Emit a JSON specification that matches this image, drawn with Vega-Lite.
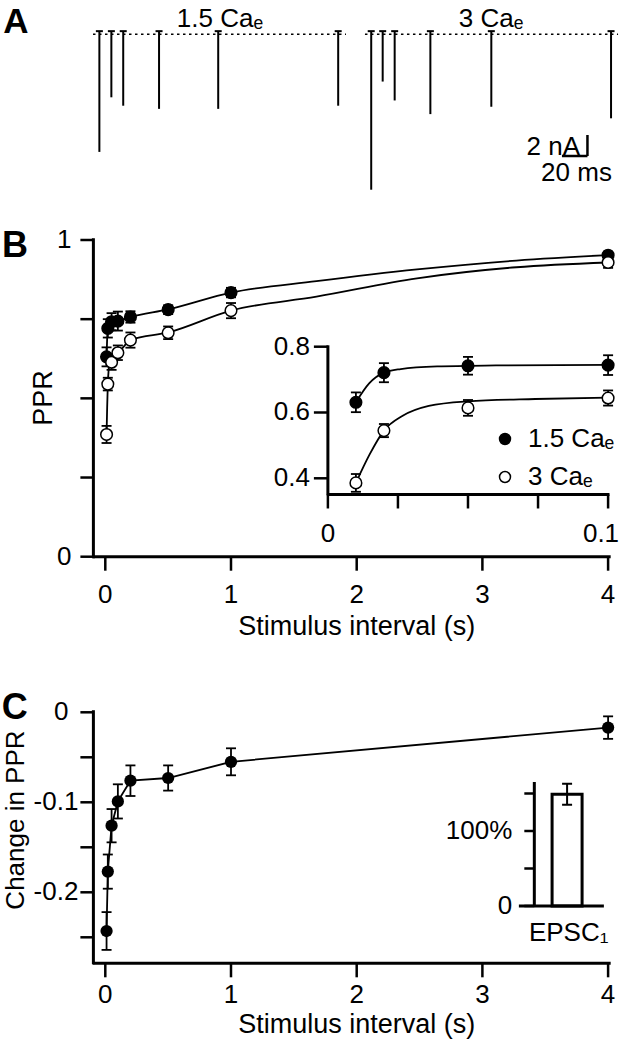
{
"$schema":"https://vega.github.io/schema/vega-lite/v6.json",
"width":620,"height":1050,"autosize":{"type":"none"},"padding":0,"background":"white",
"config":{"aria":false,"view":{"stroke":null},"text":{"font":"Liberation Sans","fontSize":26,"color":"black"},"legend":{"labelFont":"Liberation Sans"}},
"datasets":{
"spikes":[{"cond":"1.5 Ca\u2091","t":5.0,"base":0.3,"amp":-11.2},{"cond":"1.5 Ca\u2091","t":14.4,"base":0.3,"amp":-6.0},{"cond":"1.5 Ca\u2091","t":23.7,"base":0.3,"amp":-6.8},{"cond":"1.5 Ca\u2091","t":51.8,"base":0.3,"amp":-7.1},{"cond":"1.5 Ca\u2091","t":98.2,"base":0.3,"amp":-7.1},{"cond":"1.5 Ca\u2091","t":192.3,"base":0.3,"amp":-6.8},
{"cond":"3 Ca\u2091","t":218.2,"base":0.3,"amp":-14.8},{"cond":"3 Ca\u2091","t":227.2,"base":0.3,"amp":-4.5},{"cond":"3 Ca\u2091","t":236.6,"base":0.3,"amp":-6.3},{"cond":"3 Ca\u2091","t":264.6,"base":0.3,"amp":-7.6},{"cond":"3 Ca\u2091","t":312.4,"base":0.3,"amp":-6.9},{"cond":"3 Ca\u2091","t":406.3,"base":0.3,"amp":-8.0}],
"baselines":[{"cond":"1.5 Ca\u2091","start":0,"end":198.4},{"cond":"3 Ca\u2091","start":213.3,"end":411.8}],
"scalebar":[{"t0":367.8,"t1":387.8,"i0":-9.59,"i1":-11.59}],
"ppr":[
{"cond":"1.5 Ca\u2091","t":0.01,"ppr":0.631,"lo":0.601,"hi":0.661},
{"cond":"1.5 Ca\u2091","t":0.02,"ppr":0.721,"lo":0.692,"hi":0.750},
{"cond":"1.5 Ca\u2091","t":0.05,"ppr":0.742,"lo":0.715,"hi":0.769},
{"cond":"1.5 Ca\u2091","t":0.1,"ppr":0.744,"lo":0.714,"hi":0.774},
{"cond":"1.5 Ca\u2091","t":0.2,"ppr":0.757,"lo":0.739,"hi":0.775},
{"cond":"1.5 Ca\u2091","t":0.5,"ppr":0.780,"lo":0.766,"hi":0.794},
{"cond":"1.5 Ca\u2091","t":1,"ppr":0.834,"lo":0.819,"hi":0.849},
{"cond":"1.5 Ca\u2091","t":4,"ppr":0.952,"lo":0.941,"hi":0.963},
{"cond":"3 Ca\u2091","t":0.01,"ppr":0.386,"lo":0.359,"hi":0.413},
{"cond":"3 Ca\u2091","t":0.02,"ppr":0.545,"lo":0.525,"hi":0.565},
{"cond":"3 Ca\u2091","t":0.05,"ppr":0.614,"lo":0.590,"hi":0.638},
{"cond":"3 Ca\u2091","t":0.1,"ppr":0.644,"lo":0.621,"hi":0.667},
{"cond":"3 Ca\u2091","t":0.2,"ppr":0.684,"lo":0.660,"hi":0.708},
{"cond":"3 Ca\u2091","t":0.5,"ppr":0.707,"lo":0.687,"hi":0.727},
{"cond":"3 Ca\u2091","t":1,"ppr":0.777,"lo":0.753,"hi":0.801},
{"cond":"3 Ca\u2091","t":4,"ppr":0.929,"lo":0.912,"hi":0.946}],
"fits":[
{"cond":"1.5 Ca\u2091","t":0.01,"ppr":0.631},{"cond":"1.5 Ca\u2091","t":0.0148,"ppr":0.689},{"cond":"1.5 Ca\u2091","t":0.02,"ppr":0.721},{"cond":"1.5 Ca\u2091","t":0.026,"ppr":0.732},{"cond":"1.5 Ca\u2091","t":0.039,"ppr":0.740},{"cond":"1.5 Ca\u2091","t":0.06,"ppr":0.743},{"cond":"1.5 Ca\u2091","t":0.1,"ppr":0.745},{"cond":"1.5 Ca\u2091","t":0.2,"ppr":0.757},{"cond":"1.5 Ca\u2091","t":0.5,"ppr":0.781},{"cond":"1.5 Ca\u2091","t":1,"ppr":0.834},{"cond":"1.5 Ca\u2091","t":1.68,"ppr":0.870},{"cond":"1.5 Ca\u2091","t":2.48,"ppr":0.907},{"cond":"1.5 Ca\u2091","t":3.27,"ppr":0.935},{"cond":"1.5 Ca\u2091","t":4,"ppr":0.952},
{"cond":"3 Ca\u2091","t":0.01,"ppr":0.386},{"cond":"3 Ca\u2091","t":0.0148,"ppr":0.471},{"cond":"3 Ca\u2091","t":0.02,"ppr":0.545},{"cond":"3 Ca\u2091","t":0.0267,"ppr":0.59},{"cond":"3 Ca\u2091","t":0.036,"ppr":0.62},{"cond":"3 Ca\u2091","t":0.05,"ppr":0.634},{"cond":"3 Ca\u2091","t":0.074,"ppr":0.641},{"cond":"3 Ca\u2091","t":0.1,"ppr":0.645},{"cond":"3 Ca\u2091","t":0.2,"ppr":0.684},{"cond":"3 Ca\u2091","t":0.5,"ppr":0.708},{"cond":"3 Ca\u2091","t":1,"ppr":0.777},{"cond":"3 Ca\u2091","t":1.68,"ppr":0.821},{"cond":"3 Ca\u2091","t":2.48,"ppr":0.879},{"cond":"3 Ca\u2091","t":3.27,"ppr":0.914},{"cond":"3 Ca\u2091","t":4,"ppr":0.929}],
"change":[
{"t":0.01,"d":-0.243,"lo":-0.264,"hi":-0.222},
{"t":0.02,"d":-0.177,"lo":-0.196,"hi":-0.158},
{"t":0.05,"d":-0.126,"lo":-0.1445,"hi":-0.1075},
{"t":0.1,"d":-0.099,"lo":-0.118,"hi":-0.080},
{"t":0.2,"d":-0.076,"lo":-0.093,"hi":-0.059},
{"t":0.5,"d":-0.073,"lo":-0.087,"hi":-0.059},
{"t":1,"d":-0.055,"lo":-0.070,"hi":-0.040},
{"t":4,"d":-0.017,"lo":-0.0295,"hi":-0.0045}],
"epsc":[{"label":"EPSC\u2081","pct":149,"lo":135,"hi":163}],
"xticks":[{"v":0,"label":"0"},{"v":1,"label":"1"},{"v":2,"label":"2"},{"v":3,"label":"3"},{"v":4,"label":"4"}]
},
"resolve":{"scale":{"x":"independent","y":"independent"}},
"layer":[
{"layer":[
 {"data":{"name":"baselines"},"mark":{"type":"rule","color":"black","strokeWidth":1.5,"strokeDash":[2.5,3.5]},
  "encoding":{"x":{"field":"start","type":"quantitative","scale":{"domain":[-72.94,413.33],"nice":false,"zero":false},"axis":null},"x2":{"field":"end"},"y":{"datum":0,"type":"quantitative","scale":{"domain":[-96.73,3.267],"nice":false,"zero":false},"axis":null}}},
 {"data":{"name":"spikes"},"mark":{"type":"rule","color":"black","strokeWidth":2},
  "encoding":{"x":{"field":"t","type":"quantitative","scale":{"domain":[-72.94,413.33],"nice":false,"zero":false},"axis":null},"y":{"field":"base","type":"quantitative","scale":{"domain":[-96.73,3.267],"nice":false,"zero":false},"axis":null},"y2":{"field":"amp"}}},
 {"data":{"name":"spikes"},"mark":{"type":"tick","orient":"horizontal","color":"black","size":7,"thickness":2,"opacity":1},
  "encoding":{"x":{"field":"t","type":"quantitative","scale":{"domain":[-72.94,413.33],"nice":false,"zero":false},"axis":null},"y":{"field":"base","type":"quantitative","scale":{"domain":[-96.73,3.267],"nice":false,"zero":false},"axis":null}}},
 {"data":{"name":"scalebar"},"mark":{"type":"rule","color":"black","strokeWidth":2.5},
  "encoding":{"x":{"field":"t1","type":"quantitative","scale":{"domain":[-72.94,413.33],"nice":false,"zero":false},"axis":null},"y":{"field":"i0","type":"quantitative","scale":{"domain":[-96.73,3.267],"nice":false,"zero":false},"axis":null},"y2":{"field":"i1"}}},
 {"data":{"name":"scalebar"},"mark":{"type":"rule","color":"black","strokeWidth":2.5},
  "encoding":{"x":{"field":"t0","type":"quantitative","scale":{"domain":[-72.94,413.33],"nice":false,"zero":false},"axis":null},"x2":{"field":"t1"},"y":{"field":"i1","type":"quantitative","scale":{"domain":[-96.73,3.267],"nice":false,"zero":false},"axis":null}}},
 {"data":{"values":[{"label":"2 nA"}]},"mark":{"type":"text","align":"right","baseline":"middle","fontSize":26},
  "encoding":{"x":{"datum":382,"type":"quantitative","scale":{"domain":[-72.94,413.33],"nice":false,"zero":false},"axis":null},"y":{"datum":-10.73,"type":"quantitative","scale":{"domain":[-96.73,3.267],"nice":false,"zero":false},"axis":null},"text":{"field":"label","type":"nominal"}}},
 {"data":{"values":[{"label":"20 ms"}]},"mark":{"type":"text","align":"right","baseline":"middle","fontSize":26},
  "encoding":{"x":{"datum":407,"type":"quantitative","scale":{"domain":[-72.94,413.33],"nice":false,"zero":false},"axis":null},"y":{"datum":-13.2,"type":"quantitative","scale":{"domain":[-96.73,3.267],"nice":false,"zero":false},"axis":null},"text":{"field":"label","type":"nominal"}}},
 {"data":{"values":[{"label":"1.5 Ca\u2091"}]},"mark":{"type":"text","align":"center","baseline":"middle","fontSize":26},
  "encoding":{"x":{"datum":99.6,"type":"quantitative","scale":{"domain":[-72.94,413.33],"nice":false,"zero":false},"axis":null},"y":{"datum":1.457,"type":"quantitative","scale":{"domain":[-96.73,3.267],"nice":false,"zero":false},"axis":null},"text":{"field":"label","type":"nominal"}}},
 {"data":{"values":[{"label":"3 Ca\u2091"}]},"mark":{"type":"text","align":"center","baseline":"middle","fontSize":26},
  "encoding":{"x":{"datum":312.2,"type":"quantitative","scale":{"domain":[-72.94,413.33],"nice":false,"zero":false},"axis":null},"y":{"datum":1.457,"type":"quantitative","scale":{"domain":[-96.73,3.267],"nice":false,"zero":false},"axis":null},"text":{"field":"label","type":"nominal"}}},
 {"data":{"values":[{"label":"A"}]},"mark":{"type":"text","align":"center","baseline":"middle","fontSize":35,"fontWeight":"bold"},
  "encoding":{"x":{"datum":-60.4,"type":"quantitative","scale":{"domain":[-72.94,413.33],"nice":false,"zero":false},"axis":null},"y":{"datum":1.2,"type":"quantitative","scale":{"domain":[-96.73,3.267],"nice":false,"zero":false},"axis":null},"text":{"field":"label","type":"nominal"}}}
]},
{"layer":[
 {"data":{"name":"fits"},"mark":{"type":"line","color":"black","strokeWidth":1.8,"interpolate":"monotone"},
  "encoding":{"x":{"field":"t","type":"quantitative","scale":{"domain":[-0.8377,4.0947],"nice":false,"zero":false},"axis":null},"y":{"field":"ppr","type":"quantitative","scale":{"domain":[-1.5576,1.7578],"nice":false,"zero":false},"axis":null},"detail":{"field":"cond","type":"nominal"}}},
 {"data":{"name":"ppr"},"mark":{"type":"rule","color":"black","strokeWidth":1.8},
  "encoding":{"x":{"field":"t","type":"quantitative","scale":{"domain":[-0.8377,4.0947],"nice":false,"zero":false},"axis":null},"y":{"field":"lo","type":"quantitative","scale":{"domain":[-1.5576,1.7578],"nice":false,"zero":false},"axis":null},"y2":{"field":"hi"}}},
 {"data":{"name":"ppr"},"mark":{"type":"tick","orient":"horizontal","color":"black","size":10,"thickness":1.8,"opacity":1},
  "encoding":{"x":{"field":"t","type":"quantitative","scale":{"domain":[-0.8377,4.0947],"nice":false,"zero":false},"axis":null},"y":{"field":"lo","type":"quantitative","scale":{"domain":[-1.5576,1.7578],"nice":false,"zero":false},"axis":null}}},
 {"data":{"name":"ppr"},"mark":{"type":"tick","orient":"horizontal","color":"black","size":10,"thickness":1.8,"opacity":1},
  "encoding":{"x":{"field":"t","type":"quantitative","scale":{"domain":[-0.8377,4.0947],"nice":false,"zero":false},"axis":null},"y":{"field":"hi","type":"quantitative","scale":{"domain":[-1.5576,1.7578],"nice":false,"zero":false},"axis":null}}},
 {"data":{"name":"ppr"},"mark":{"type":"point","shape":"circle","filled":true,"stroke":"black","strokeWidth":1.5,"size":135,"opacity":1},
  "encoding":{"x":{"field":"t","type":"quantitative","scale":{"domain":[-0.8377,4.0947],"nice":false,"zero":false},"axis":null},"y":{"field":"ppr","type":"quantitative","scale":{"domain":[-1.5576,1.7578],"nice":false,"zero":false},"axis":null},
   "fill":{"field":"cond","type":"nominal","scale":{"domain":["1.5 Ca\u2091","3 Ca\u2091"],"range":["black","white"]},
    "legend":{"orient":"none","legendX":492,"legendY":426,"title":null,"symbolType":"circle","symbolSize":120,"symbolStrokeColor":"black","symbolStrokeWidth":1.5,"symbolOpacity":1,"labelFontSize":26,"labelFont":"Liberation Sans","labelColor":"black","labelOffset":10,"rowPadding":12}}}},
 {"data":{"values":[{"a":1}]},"mark":{"type":"tick","orient":"vertical","color":"black","size":320,"thickness":3,"opacity":1},
  "encoding":{"x":{"datum":-0.0947,"type":"quantitative","scale":{"domain":[-0.8377,4.0947],"nice":false,"zero":false},"axis":null},"y":{"datum":0.5,"type":"quantitative","scale":{"domain":[-1.5576,1.7578],"nice":false,"zero":false},"axis":null}}},
 {"data":{"values":[{"a":1}]},"mark":{"type":"tick","orient":"horizontal","color":"black","size":518,"thickness":3,"opacity":1},
  "encoding":{"x":{"datum":1.96,"type":"quantitative","scale":{"domain":[-0.8377,4.0947],"nice":false,"zero":false},"axis":null},"y":{"datum":0,"type":"quantitative","scale":{"domain":[-1.5576,1.7578],"nice":false,"zero":false},"axis":null}}},
 {"data":{"values":[{"v":0,"label":"0"},{"v":0.25,"label":""},{"v":0.5,"label":""},{"v":0.75,"label":""},{"v":1,"label":"1"}]},"layer":[
  {"mark":{"type":"tick","orient":"horizontal","color":"black","size":13,"thickness":2.5,"xOffset":-6.5,"opacity":1},
   "encoding":{"x":{"datum":-0.0947,"type":"quantitative","scale":{"domain":[-0.8377,4.0947],"nice":false,"zero":false},"axis":null},"y":{"field":"v","type":"quantitative","scale":{"domain":[-1.5576,1.7578],"nice":false,"zero":false},"axis":null}}},
  {"mark":{"type":"text","align":"right","baseline":"middle","dx":-22,"fontSize":26},
   "encoding":{"x":{"datum":-0.0947,"type":"quantitative","scale":{"domain":[-0.8377,4.0947],"nice":false,"zero":false},"axis":null},"y":{"field":"v","type":"quantitative","scale":{"domain":[-1.5576,1.7578],"nice":false,"zero":false},"axis":null},"text":{"field":"label","type":"nominal"}}}]},
 {"data":{"name":"xticks"},"layer":[
  {"mark":{"type":"tick","orient":"vertical","color":"black","size":14,"thickness":2.5,"yOffset":7,"opacity":1},
   "encoding":{"x":{"field":"v","type":"quantitative","scale":{"domain":[-0.8377,4.0947],"nice":false,"zero":false},"axis":null},"y":{"datum":0,"type":"quantitative","scale":{"domain":[-1.5576,1.7578],"nice":false,"zero":false},"axis":null}}},
  {"mark":{"type":"text","align":"center","baseline":"middle","dy":38,"fontSize":26},
   "encoding":{"x":{"field":"v","type":"quantitative","scale":{"domain":[-0.8377,4.0947],"nice":false,"zero":false},"axis":null},"y":{"datum":0,"type":"quantitative","scale":{"domain":[-1.5576,1.7578],"nice":false,"zero":false},"axis":null},"text":{"field":"label","type":"nominal"}}}]},
 {"data":{"values":[{"label":"Stimulus interval (s)"}]},"mark":{"type":"text","align":"center","baseline":"middle","dy":70,"fontSize":27},
  "encoding":{"x":{"datum":2,"type":"quantitative","scale":{"domain":[-0.8377,4.0947],"nice":false,"zero":false},"axis":null},"y":{"datum":0,"type":"quantitative","scale":{"domain":[-1.5576,1.7578],"nice":false,"zero":false},"axis":null},"text":{"field":"label","type":"nominal"}}},
 {"data":{"values":[{"label":"PPR"}]},"mark":{"type":"text","align":"center","baseline":"middle","angle":270,"fontSize":27},
  "encoding":{"x":{"datum":-0.49,"type":"quantitative","scale":{"domain":[-0.8377,4.0947],"nice":false,"zero":false},"axis":null},"y":{"datum":0.501,"type":"quantitative","scale":{"domain":[-1.5576,1.7578],"nice":false,"zero":false},"axis":null},"text":{"field":"label","type":"nominal"}}},
 {"data":{"values":[{"label":"B"}]},"mark":{"type":"text","align":"center","baseline":"middle","fontSize":36,"fontWeight":"bold"},
  "encoding":{"x":{"datum":-0.7184,"type":"quantitative","scale":{"domain":[-0.8377,4.0947],"nice":false,"zero":false},"axis":null},"y":{"datum":0.981,"type":"quantitative","scale":{"domain":[-1.5576,1.7578],"nice":false,"zero":false},"axis":null},"text":{"field":"label","type":"nominal"}}}
]},
{"layer":[
 {"data":{"name":"fits"},"transform":[{"filter":"datum.t <= 0.1"}],"mark":{"type":"line","color":"black","strokeWidth":1.8,"interpolate":"monotone"},
  "encoding":{"x":{"field":"t","type":"quantitative","scale":{"domain":[-0.11702,0.10425],"nice":false,"zero":false},"axis":null},"y":{"field":"ppr","type":"quantitative","scale":{"domain":[-1.33769,1.85377],"nice":false,"zero":false},"axis":null},"detail":{"field":"cond","type":"nominal"}}},
 {"data":{"name":"ppr"},"transform":[{"filter":"datum.t <= 0.1"}],"mark":{"type":"rule","color":"black","strokeWidth":1.8},
  "encoding":{"x":{"field":"t","type":"quantitative","scale":{"domain":[-0.11702,0.10425],"nice":false,"zero":false},"axis":null},"y":{"field":"lo","type":"quantitative","scale":{"domain":[-1.33769,1.85377],"nice":false,"zero":false},"axis":null},"y2":{"field":"hi"}}},
 {"data":{"name":"ppr"},"transform":[{"filter":"datum.t <= 0.1"}],"mark":{"type":"tick","orient":"horizontal","color":"black","size":10,"thickness":1.8,"opacity":1},
  "encoding":{"x":{"field":"t","type":"quantitative","scale":{"domain":[-0.11702,0.10425],"nice":false,"zero":false},"axis":null},"y":{"field":"lo","type":"quantitative","scale":{"domain":[-1.33769,1.85377],"nice":false,"zero":false},"axis":null}}},
 {"data":{"name":"ppr"},"transform":[{"filter":"datum.t <= 0.1"}],"mark":{"type":"tick","orient":"horizontal","color":"black","size":10,"thickness":1.8,"opacity":1},
  "encoding":{"x":{"field":"t","type":"quantitative","scale":{"domain":[-0.11702,0.10425],"nice":false,"zero":false},"axis":null},"y":{"field":"hi","type":"quantitative","scale":{"domain":[-1.33769,1.85377],"nice":false,"zero":false},"axis":null}}},
 {"data":{"name":"ppr"},"transform":[{"filter":"datum.t <= 0.1"}],"mark":{"type":"point","shape":"circle","filled":true,"stroke":"black","strokeWidth":1.5,"size":135,"opacity":1},
  "encoding":{"x":{"field":"t","type":"quantitative","scale":{"domain":[-0.11702,0.10425],"nice":false,"zero":false},"axis":null},"y":{"field":"ppr","type":"quantitative","scale":{"domain":[-1.33769,1.85377],"nice":false,"zero":false},"axis":null},
   "fill":{"field":"cond","type":"nominal","scale":{"domain":["1.5 Ca\u2091","3 Ca\u2091"],"range":["black","white"]},"legend":null}}},
 {"data":{"values":[{"a":1}]},"mark":{"type":"tick","orient":"vertical","color":"black","size":150,"thickness":3,"opacity":1},
  "encoding":{"x":{"datum":0,"type":"quantitative","scale":{"domain":[-0.11702,0.10425],"nice":false,"zero":false},"axis":null},"y":{"datum":0.5763,"type":"quantitative","scale":{"domain":[-1.33769,1.85377],"nice":false,"zero":false},"axis":null}}},
 {"data":{"values":[{"a":1}]},"mark":{"type":"tick","orient":"horizontal","color":"black","size":282,"thickness":3,"opacity":1},
  "encoding":{"x":{"datum":0.05018,"type":"quantitative","scale":{"domain":[-0.11702,0.10425],"nice":false,"zero":false},"axis":null},"y":{"datum":0.3508,"type":"quantitative","scale":{"domain":[-1.33769,1.85377],"nice":false,"zero":false},"axis":null}}},
 {"data":{"values":[{"v":0.4,"label":"0.4"},{"v":0.6,"label":"0.6"},{"v":0.8,"label":"0.8"}]},"layer":[
  {"mark":{"type":"tick","orient":"horizontal","color":"black","size":14,"thickness":2.5,"xOffset":-7,"opacity":1},
   "encoding":{"x":{"datum":0,"type":"quantitative","scale":{"domain":[-0.11702,0.10425],"nice":false,"zero":false},"axis":null},"y":{"field":"v","type":"quantitative","scale":{"domain":[-1.33769,1.85377],"nice":false,"zero":false},"axis":null}}},
  {"mark":{"type":"text","align":"right","baseline":"middle","dx":-18,"fontSize":26},
   "encoding":{"x":{"datum":0,"type":"quantitative","scale":{"domain":[-0.11702,0.10425],"nice":false,"zero":false},"axis":null},"y":{"field":"v","type":"quantitative","scale":{"domain":[-1.33769,1.85377],"nice":false,"zero":false},"axis":null},"text":{"field":"label","type":"nominal"}}}]},
 {"data":{"values":[{"v":0,"label":"0"},{"v":0.025,"label":""},{"v":0.05,"label":""},{"v":0.075,"label":""},{"v":0.1,"label":""}]},"layer":[
  {"mark":{"type":"tick","orient":"vertical","color":"black","size":14,"thickness":2.5,"yOffset":7,"opacity":1},
   "encoding":{"x":{"field":"v","type":"quantitative","scale":{"domain":[-0.11702,0.10425],"nice":false,"zero":false},"axis":null},"y":{"datum":0.3508,"type":"quantitative","scale":{"domain":[-1.33769,1.85377],"nice":false,"zero":false},"axis":null}}},
  {"mark":{"type":"text","align":"center","baseline":"middle","dy":40,"fontSize":26},
   "encoding":{"x":{"field":"v","type":"quantitative","scale":{"domain":[-0.11702,0.10425],"nice":false,"zero":false},"axis":null},"y":{"datum":0.3508,"type":"quantitative","scale":{"domain":[-1.33769,1.85377],"nice":false,"zero":false},"axis":null},"text":{"field":"label","type":"nominal"}}}]},
 {"data":{"values":[{"label":"0.1"}]},"mark":{"type":"text","align":"right","baseline":"middle","dy":40,"dx":11,"fontSize":26},
  "encoding":{"x":{"datum":0.1,"type":"quantitative","scale":{"domain":[-0.11702,0.10425],"nice":false,"zero":false},"axis":null},"y":{"datum":0.3508,"type":"quantitative","scale":{"domain":[-1.33769,1.85377],"nice":false,"zero":false},"axis":null},"text":{"field":"label","type":"nominal"}}}
]},
{"layer":[
 {"data":{"name":"change"},"mark":{"type":"line","color":"black","strokeWidth":1.8},
  "encoding":{"x":{"field":"t","type":"quantitative","scale":{"domain":[-0.8377,4.0947],"nice":false,"zero":false},"axis":null},"y":{"field":"d","type":"quantitative","scale":{"domain":[-0.37522,0.79144],"nice":false,"zero":false},"axis":null}}},
 {"data":{"name":"change"},"mark":{"type":"rule","color":"black","strokeWidth":1.8},
  "encoding":{"x":{"field":"t","type":"quantitative","scale":{"domain":[-0.8377,4.0947],"nice":false,"zero":false},"axis":null},"y":{"field":"lo","type":"quantitative","scale":{"domain":[-0.37522,0.79144],"nice":false,"zero":false},"axis":null},"y2":{"field":"hi"}}},
 {"data":{"name":"change"},"mark":{"type":"tick","orient":"horizontal","color":"black","size":10,"thickness":1.8,"opacity":1},
  "encoding":{"x":{"field":"t","type":"quantitative","scale":{"domain":[-0.8377,4.0947],"nice":false,"zero":false},"axis":null},"y":{"field":"lo","type":"quantitative","scale":{"domain":[-0.37522,0.79144],"nice":false,"zero":false},"axis":null}}},
 {"data":{"name":"change"},"mark":{"type":"tick","orient":"horizontal","color":"black","size":10,"thickness":1.8,"opacity":1},
  "encoding":{"x":{"field":"t","type":"quantitative","scale":{"domain":[-0.8377,4.0947],"nice":false,"zero":false},"axis":null},"y":{"field":"hi","type":"quantitative","scale":{"domain":[-0.37522,0.79144],"nice":false,"zero":false},"axis":null}}},
 {"data":{"name":"change"},"mark":{"type":"point","shape":"circle","filled":true,"color":"black","size":150,"opacity":1},
  "encoding":{"x":{"field":"t","type":"quantitative","scale":{"domain":[-0.8377,4.0947],"nice":false,"zero":false},"axis":null},"y":{"field":"d","type":"quantitative","scale":{"domain":[-0.37522,0.79144],"nice":false,"zero":false},"axis":null}}},
 {"data":{"values":[{"a":1}]},"mark":{"type":"tick","orient":"vertical","color":"black","size":254,"thickness":3,"opacity":1},
  "encoding":{"x":{"datum":-0.0947,"type":"quantitative","scale":{"domain":[-0.8377,4.0947],"nice":false,"zero":false},"axis":null},"y":{"datum":-0.1388,"type":"quantitative","scale":{"domain":[-0.37522,0.79144],"nice":false,"zero":false},"axis":null}}},
 {"data":{"values":[{"a":1}]},"mark":{"type":"tick","orient":"horizontal","color":"black","size":518,"thickness":3,"opacity":1},
  "encoding":{"x":{"datum":1.96,"type":"quantitative","scale":{"domain":[-0.8377,4.0947],"nice":false,"zero":false},"axis":null},"y":{"datum":-0.2789,"type":"quantitative","scale":{"domain":[-0.37522,0.79144],"nice":false,"zero":false},"axis":null}}},
 {"data":{"values":[{"v":0,"label":"0"},{"v":-0.05,"label":""},{"v":-0.1,"label":"-0.1"},{"v":-0.15,"label":""},{"v":-0.2,"label":"-0.2"},{"v":-0.25,"label":""}]},"layer":[
  {"mark":{"type":"tick","orient":"horizontal","color":"black","size":13,"thickness":2.5,"xOffset":-6.5,"opacity":1},
   "encoding":{"x":{"datum":-0.0947,"type":"quantitative","scale":{"domain":[-0.8377,4.0947],"nice":false,"zero":false},"axis":null},"y":{"field":"v","type":"quantitative","scale":{"domain":[-0.37522,0.79144],"nice":false,"zero":false},"axis":null}}},
  {"transform":[{"filter":"datum.v < 0"}],"mark":{"type":"text","align":"right","baseline":"middle","dx":-15,"fontSize":26},
   "encoding":{"x":{"datum":-0.0947,"type":"quantitative","scale":{"domain":[-0.8377,4.0947],"nice":false,"zero":false},"axis":null},"y":{"field":"v","type":"quantitative","scale":{"domain":[-0.37522,0.79144],"nice":false,"zero":false},"axis":null},"text":{"field":"label","type":"nominal"}}},
  {"transform":[{"filter":"datum.v == 0"}],"mark":{"type":"text","align":"right","baseline":"middle","dx":-25,"fontSize":26},
   "encoding":{"x":{"datum":-0.0947,"type":"quantitative","scale":{"domain":[-0.8377,4.0947],"nice":false,"zero":false},"axis":null},"y":{"field":"v","type":"quantitative","scale":{"domain":[-0.37522,0.79144],"nice":false,"zero":false},"axis":null},"text":{"field":"label","type":"nominal"}}}]},
 {"data":{"name":"xticks"},"layer":[
  {"mark":{"type":"tick","orient":"vertical","color":"black","size":14,"thickness":2.5,"yOffset":7,"opacity":1},
   "encoding":{"x":{"field":"v","type":"quantitative","scale":{"domain":[-0.8377,4.0947],"nice":false,"zero":false},"axis":null},"y":{"datum":-0.2789,"type":"quantitative","scale":{"domain":[-0.37522,0.79144],"nice":false,"zero":false},"axis":null}}},
  {"mark":{"type":"text","align":"center","baseline":"middle","dy":32,"fontSize":26},
   "encoding":{"x":{"field":"v","type":"quantitative","scale":{"domain":[-0.8377,4.0947],"nice":false,"zero":false},"axis":null},"y":{"datum":-0.2789,"type":"quantitative","scale":{"domain":[-0.37522,0.79144],"nice":false,"zero":false},"axis":null},"text":{"field":"label","type":"nominal"}}}]},
 {"data":{"values":[{"label":"Stimulus interval (s)"}]},"mark":{"type":"text","align":"center","baseline":"middle","dy":62,"fontSize":27},
  "encoding":{"x":{"datum":2,"type":"quantitative","scale":{"domain":[-0.8377,4.0947],"nice":false,"zero":false},"axis":null},"y":{"datum":-0.2789,"type":"quantitative","scale":{"domain":[-0.37522,0.79144],"nice":false,"zero":false},"axis":null},"text":{"field":"label","type":"nominal"}}},
 {"data":{"values":[{"label":"Change in PPR"}]},"mark":{"type":"text","align":"center","baseline":"middle","angle":270,"fontSize":26},
  "encoding":{"x":{"datum":-0.712,"type":"quantitative","scale":{"domain":[-0.8377,4.0947],"nice":false,"zero":false},"axis":null},"y":{"datum":-0.1197,"type":"quantitative","scale":{"domain":[-0.37522,0.79144],"nice":false,"zero":false},"axis":null},"text":{"field":"label","type":"nominal"}}},
 {"data":{"values":[{"label":"C"}]},"mark":{"type":"text","align":"center","baseline":"middle","fontSize":36,"fontWeight":"bold"},
  "encoding":{"x":{"datum":-0.72,"type":"quantitative","scale":{"domain":[-0.8377,4.0947],"nice":false,"zero":false},"axis":null},"y":{"datum":0.0053,"type":"quantitative","scale":{"domain":[-0.37522,0.79144],"nice":false,"zero":false},"axis":null},"text":{"field":"label","type":"nominal"}}}
]},
{"layer":[
 {"data":{"name":"epsc"},"mark":{"type":"bar","fill":"white","stroke":"black","strokeWidth":3,"size":30},
  "encoding":{"x":{"datum":1,"type":"quantitative","scale":{"domain":[-16.156,2.4625],"nice":false,"zero":false},"axis":null},"y":{"field":"pct","type":"quantitative","stack":null,"scale":{"domain":[-192,1208],"nice":false,"zero":false},"axis":null}}},
 {"data":{"name":"epsc"},"mark":{"type":"rule","color":"black","strokeWidth":2},
  "encoding":{"x":{"datum":1,"type":"quantitative","scale":{"domain":[-16.156,2.4625],"nice":false,"zero":false},"axis":null},"y":{"field":"lo","type":"quantitative","scale":{"domain":[-192,1208],"nice":false,"zero":false},"axis":null},"y2":{"field":"hi"}}},
 {"data":{"name":"epsc"},"mark":{"type":"tick","orient":"horizontal","color":"black","size":10,"thickness":2,"opacity":1},
  "encoding":{"x":{"datum":1,"type":"quantitative","scale":{"domain":[-16.156,2.4625],"nice":false,"zero":false},"axis":null},"y":{"field":"lo","type":"quantitative","scale":{"domain":[-192,1208],"nice":false,"zero":false},"axis":null}}},
 {"data":{"name":"epsc"},"mark":{"type":"tick","orient":"horizontal","color":"black","size":10,"thickness":2,"opacity":1},
  "encoding":{"x":{"datum":1,"type":"quantitative","scale":{"domain":[-16.156,2.4625],"nice":false,"zero":false},"axis":null},"y":{"field":"hi","type":"quantitative","scale":{"domain":[-192,1208],"nice":false,"zero":false},"axis":null}}},
 {"data":{"name":"epsc"},"mark":{"type":"text","align":"center","baseline":"middle","dy":27,"fontSize":26},
  "encoding":{"x":{"datum":1.05,"type":"quantitative","scale":{"domain":[-16.156,2.4625],"nice":false,"zero":false},"axis":null},"y":{"datum":0,"type":"quantitative","scale":{"domain":[-192,1208],"nice":false,"zero":false},"axis":null},"text":{"field":"label","type":"nominal"}}},
 {"data":{"values":[{"a":1}]},"mark":{"type":"tick","orient":"vertical","color":"black","size":125,"thickness":3,"opacity":1},
  "encoding":{"x":{"datum":0,"type":"quantitative","scale":{"domain":[-16.156,2.4625],"nice":false,"zero":false},"axis":null},"y":{"datum":82,"type":"quantitative","scale":{"domain":[-192,1208],"nice":false,"zero":false},"axis":null}}},
 {"data":{"values":[{"a":1}]},"mark":{"type":"tick","orient":"horizontal","color":"black","size":85,"thickness":3,"opacity":1},
  "encoding":{"x":{"datum":0.826,"type":"quantitative","scale":{"domain":[-16.156,2.4625],"nice":false,"zero":false},"axis":null},"y":{"datum":0,"type":"quantitative","scale":{"domain":[-192,1208],"nice":false,"zero":false},"axis":null}}},
 {"data":{"values":[{"v":0,"label":"0"},{"v":50,"label":""},{"v":100,"label":"100%"},{"v":150,"label":""}]},"layer":[
  {"mark":{"type":"tick","orient":"horizontal","color":"black","size":10,"thickness":2.5,"xOffset":-5,"opacity":1},
   "encoding":{"x":{"datum":0,"type":"quantitative","scale":{"domain":[-16.156,2.4625],"nice":false,"zero":false},"axis":null},"y":{"field":"v","type":"quantitative","scale":{"domain":[-192,1208],"nice":false,"zero":false},"axis":null}}},
  {"mark":{"type":"text","align":"right","baseline":"middle","dx":-22,"fontSize":26},
   "encoding":{"x":{"datum":0,"type":"quantitative","scale":{"domain":[-16.156,2.4625],"nice":false,"zero":false},"axis":null},"y":{"field":"v","type":"quantitative","scale":{"domain":[-192,1208],"nice":false,"zero":false},"axis":null},"text":{"field":"label","type":"nominal"}}}]}
]}
]
}
